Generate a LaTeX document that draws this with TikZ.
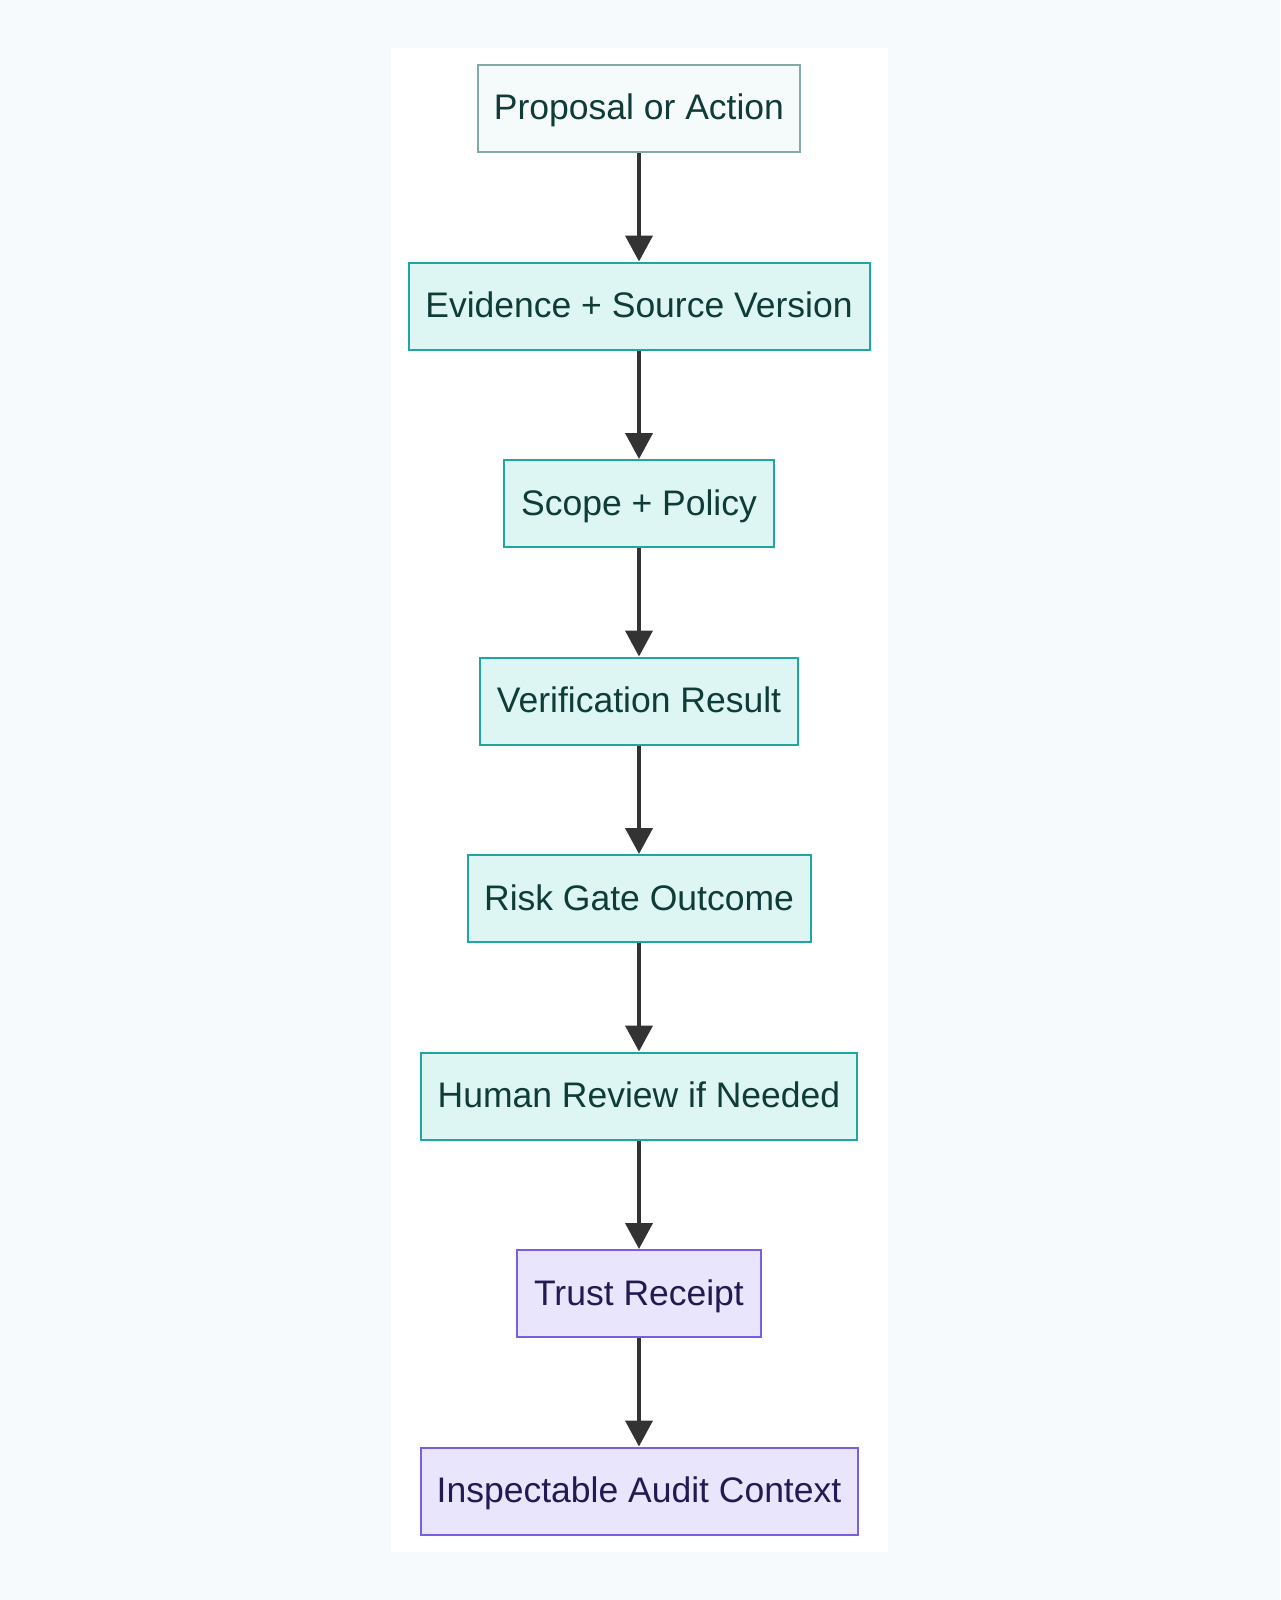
\documentclass[tikz,border=0pt]{standalone}
\usepackage{fontspec}
\setmainfont{Liberation Sans}
\usetikzlibrary{arrows.meta}
\definecolor{bgc}{HTML}{F6FAFC}
\definecolor{startfill}{HTML}{F5FAFA}
\definecolor{startdraw}{HTML}{82ABA7}
\definecolor{tealfill}{HTML}{DDF6F3}
\definecolor{tealdraw}{HTML}{1FA69E}
\definecolor{tealtext}{HTML}{0F3B38}
\definecolor{purfill}{HTML}{E8E5FD}
\definecolor{purdraw}{HTML}{7B5DE2}
\definecolor{purtext}{HTML}{221A52}
\definecolor{arrowc}{HTML}{333333}
\tikzset{
  x=1pt, y=-1pt,
  box/.style={rectangle, line width=2pt, minimum height=87pt, inner sep=0pt,
    text height=27pt, text depth=4pt,
    font=\fontsize{35.5}{42}\selectfont},
  startbox/.style={box, fill=startfill, draw=startdraw, text=tealtext},
  tealbox/.style={box, fill=tealfill, draw=tealdraw, text=tealtext},
  purbox/.style={box, fill=purfill, draw=purdraw, text=purtext},
  flow/.style={draw=arrowc, line width=4pt, -{Triangle[width=27pt,length=26pt]}}
}
\begin{document}
\begin{tikzpicture}
\fill[bgc] (0,0) rectangle (1280,1600);
\useasboundingbox (0,0) rectangle (1280,1600);
\fill[white] (391,48) rectangle (888,1552);
\node[startbox, minimum width=322pt] (n1) at (639,108.5) {Proposal or Action};
\node[tealbox, minimum width=461pt] (n2) at (639,306) {Evidence + Source Version};
\node[tealbox, minimum width=270pt] (n3) at (639,503.5) {Scope + Policy};
\node[tealbox, minimum width=318pt] (n4) at (639,701) {Verification Result};
\node[tealbox, minimum width=343pt] (n5) at (639,898.5) {Risk Gate Outcome};
\node[tealbox, minimum width=436pt] (n6) at (639,1096) {Human Review if Needed};
\node[purbox, minimum width=244pt] (n7) at (639,1293.5) {Trust Receipt};
\node[purbox, minimum width=437pt] (n8) at (639,1491) {Inspectable Audit Context};
\draw[flow] (n1) -- (n2);
\draw[flow] (n2) -- (n3);
\draw[flow] (n3) -- (n4);
\draw[flow] (n4) -- (n5);
\draw[flow] (n5) -- (n6);
\draw[flow] (n6) -- (n7);
\draw[flow] (n7) -- (n8);
\end{tikzpicture}
\end{document}
